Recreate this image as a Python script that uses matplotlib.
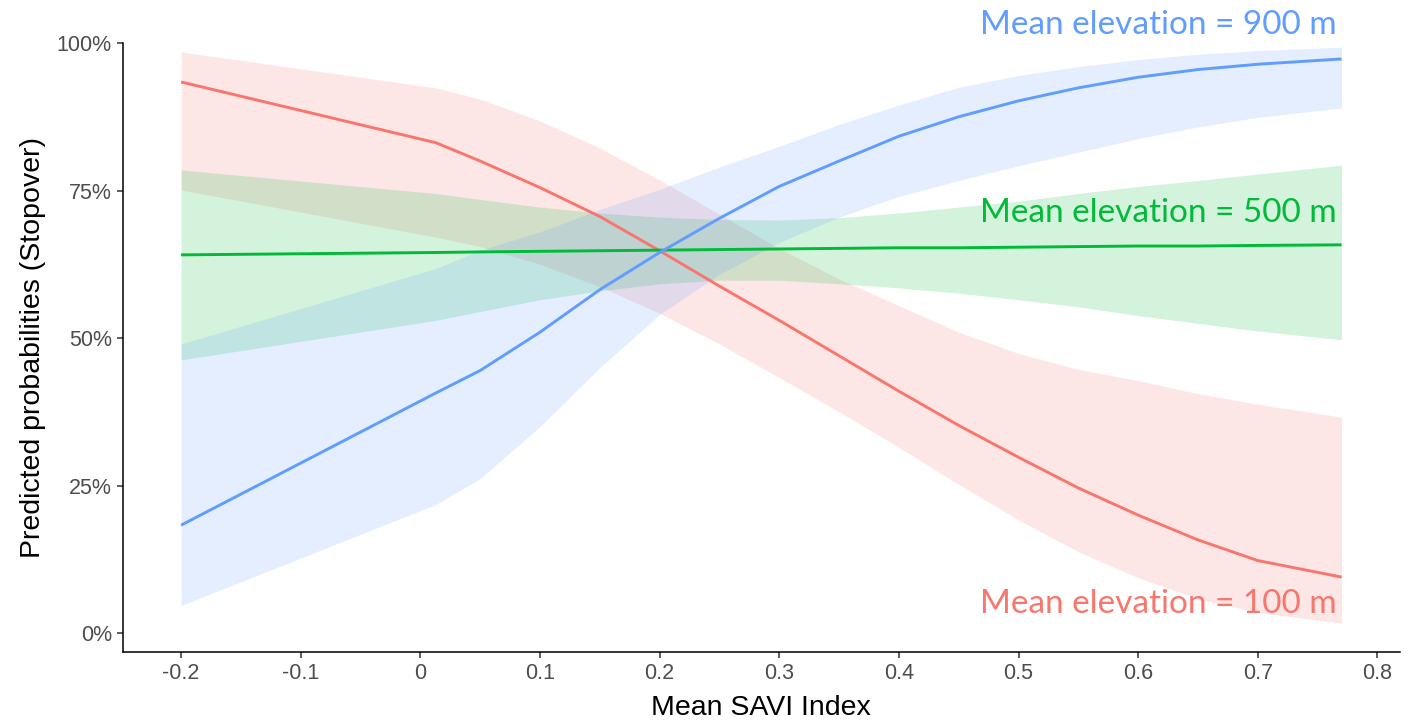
import numpy as np
import matplotlib
matplotlib.use("Agg")
import matplotlib.pyplot as plt

# SAVI grid used for the predictions
savi = [-0.2, 0.013, 0.05, 0.1, 0.15, 0.2, 0.25, 0.3, 0.35, 0.4, 0.45, 0.5, 0.55, 0.6, 0.65, 0.7, 0.77]

# elevation = 100 m
fit_100 = [0.934, 0.831, 0.80, 0.755, 0.706, 0.648, 0.588, 0.530, 0.470, 0.410, 0.352, 0.298, 0.246, 0.200, 0.158, 0.123, 0.095]
hi_100 = [0.985, 0.924, 0.905, 0.868, 0.822, 0.768, 0.710, 0.652, 0.600, 0.555, 0.510, 0.474, 0.447, 0.428, 0.406, 0.388, 0.366]
lo_100 = [0.751, 0.671, 0.655, 0.625, 0.587, 0.542, 0.490, 0.433, 0.375, 0.315, 0.252, 0.192, 0.138, 0.094, 0.058, 0.035, 0.017]

# elevation = 500 m
fit_500 = [0.641, 0.645, 0.646, 0.647, 0.648, 0.649, 0.650, 0.651, 0.652, 0.653, 0.653, 0.654, 0.655, 0.656, 0.656, 0.657, 0.658]
hi_500 = [0.785, 0.745, 0.735, 0.722, 0.712, 0.705, 0.701, 0.700, 0.704, 0.712, 0.722, 0.732, 0.745, 0.757, 0.767, 0.778, 0.793]
lo_500 = [0.463, 0.530, 0.545, 0.565, 0.580, 0.592, 0.598, 0.598, 0.592, 0.585, 0.576, 0.565, 0.553, 0.538, 0.525, 0.512, 0.497]

# elevation = 900 m
fit_900 = [0.183, 0.407, 0.445, 0.510, 0.582, 0.645, 0.703, 0.757, 0.800, 0.842, 0.875, 0.902, 0.924, 0.942, 0.955, 0.964, 0.973]
hi_900 = [0.490, 0.618, 0.649, 0.680, 0.718, 0.752, 0.790, 0.825, 0.862, 0.895, 0.925, 0.945, 0.960, 0.972, 0.981, 0.987, 0.993]
lo_900 = [0.047, 0.218, 0.262, 0.350, 0.450, 0.540, 0.608, 0.662, 0.705, 0.740, 0.767, 0.792, 0.815, 0.838, 0.858, 0.874, 0.890]

xticks = [-0.2, -0.1, 0, 0.1, 0.2, 0.3, 0.4, 0.5, 0.6, 0.7, 0.8]
xtick_labels = ["-0.2", "-0.1", "0", "0.1", "0.2", "0.3", "0.4", "0.5", "0.6", "0.7", "0.8"]
yticks = [0, 0.25, 0.5, 0.75, 1.0]
ytick_labels = ["0%", "25%", "50%", "75%", "100%"]

series = [
    ("Mean elevation = 100 m", fit_100, lo_100, hi_100, "#F8766D", 0.049),
    ("Mean elevation = 500 m", fit_500, lo_500, hi_500, "#00BA38", 0.712),
    ("Mean elevation = 900 m", fit_900, lo_900, hi_900, "#619CFF", 1.03),
]

fig = plt.figure(figsize=(14.08, 7.24), dpi=100)
ax = fig.add_axes([0.0874, 0.0994, 0.9066, 0.8412])

for label, fit, lo, hi, col, ty in series:
    ax.fill_between(savi, lo, hi, color=col, alpha=0.17, linewidth=0)
for label, fit, lo, hi, col, ty in series:
    ax.plot(savi, fit, color=col, lw=2.1, solid_capstyle="butt")
    ax.text(0.766, ty, label, color=col, fontsize=24, family="Lato",
            ha="right", va="center", clip_on=False)

ax.set_xlim(-0.2485, 0.8185)
ax.set_ylim(-0.032, 1.0)
ax.set_xticks(xticks)
ax.set_xticklabels(xtick_labels)
ax.set_yticks(yticks)
ax.set_yticklabels(ytick_labels)

for s in ["top", "right"]:
    ax.spines[s].set_visible(False)
for s in ["left", "bottom"]:
    ax.spines[s].set_linewidth(1.1)
    ax.spines[s].set_color("black")

ax.tick_params(axis="both", length=4, width=1.1, color="#333333",
               labelcolor="#4D4D4D", labelsize=15.5, pad=4)
for t in ax.get_xticklabels() + ax.get_yticklabels():
    t.set_family("Liberation Sans")

ax.set_xlabel("Mean SAVI Index", fontsize=20.5, family="Liberation Sans", labelpad=8)
ax.set_ylabel("Predicted probabilities (Stopover)", fontsize=20.5,
              family="Liberation Sans", labelpad=8)

fig.savefig("out.png", dpi=100)
